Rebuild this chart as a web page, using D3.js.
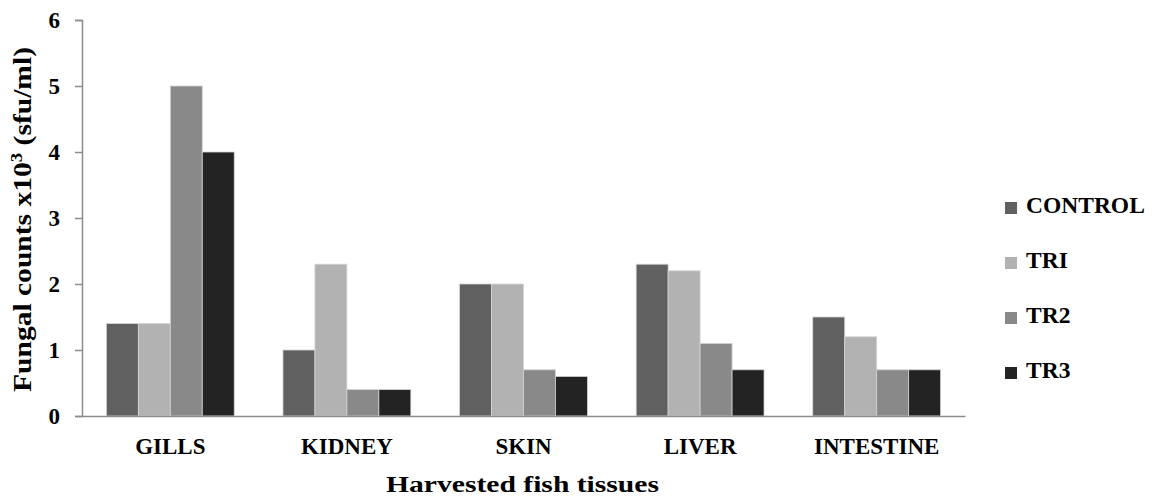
<!DOCTYPE html>
<html><head><meta charset="utf-8">
<script src="https://cdn.jsdelivr.net/npm/d3@7"></script>
<style>body{margin:0;background:#fff}svg{display:block}text{font-family:"Liberation Serif","Times New Roman",serif;font-weight:bold;fill:#000}</style>
</head><body>
<svg id="c" width="1155" height="496"></svg>
<script>
const categories = ["GILLS","KIDNEY","SKIN","LIVER","INTESTINE"];
const seriesNames = ["CONTROL","TRI","TR2","TR3"];
const control = [1.4,1.0,2.0,2.3,1.5];
const tr1 = [1.4,2.3,2.0,2.2,1.2];
const tr2 = [5.0,0.4,0.7,1.1,0.7];
const tr3 = [4.0,0.4,0.6,0.7,0.7];
const yTicks = [0,1,2,3,4,5,6];
const colors = ["#606060","#b2b2b2","#898989","#232323"];

const seriesValues = [control,tr1,tr2,tr3];
const FONT = "Liberation Serif";
const svg = d3.select("#c");
const x0 = d3.scaleBand().domain(categories).range([82,965]).paddingInner(0).paddingOuter(0);
const inner = 0.724;
const x1 = d3.scaleBand().domain(seriesNames).range([0,x0.bandwidth()*inner]);
const y = d3.scaleLinear().domain([0,6]).range([416,20]);

// bars
const groups = svg.append("g").selectAll("g").data(categories).join("g")
  .attr("transform",d=>`translate(${x0(d)+x0.bandwidth()*(1-inner)/2},0)`);
groups.selectAll("rect").data((d,i)=>seriesNames.map((s,j)=>({s,v:seriesValues[j][i],j})))
  .join("rect")
  .attr("x",d=>x1(d.s)).attr("width",x1.bandwidth())
  .attr("y",d=>y(d.v)).attr("height",d=>y(0)-y(d.v))
  .attr("fill",d=>colors[d.j]).attr("stroke","#d4d4d4").attr("stroke-width",0.8);

// y axis
const ya = svg.append("g").attr("transform","translate(82,0)")
  .call(d3.axisLeft(y).tickValues(yTicks).tickSize(7).tickPadding(15).tickFormat(d3.format("d")));
ya.attr("font-family",FONT);
ya.select(".domain").attr("stroke","#8c8c8c").attr("stroke-width",1.5);
ya.selectAll(".tick line").attr("stroke","#8c8c8c").attr("stroke-width",1.5);
ya.selectAll("text").style("font-size","23px").style("font-family",FONT).style("font-weight","bold");

// x axis
const xa = svg.append("g").attr("transform","translate(0,416)")
  .call(d3.axisBottom(x0).tickSize(0).tickPadding(22));
xa.attr("font-family",FONT);
xa.select(".domain").attr("stroke","#8c8c8c").attr("stroke-width",1.5);
xa.selectAll("text").attr("dy",null).attr("y",38).style("font-size","23px").style("font-family",FONT).style("font-weight","bold");

// titles
svg.append("text").attr("x",522.5).attr("y",492).attr("text-anchor","middle")
  .attr("textLength",273).attr("lengthAdjust","spacingAndGlyphs")
  .style("font-size","24px").text("Harvested fish tissues");
const yt = svg.append("text").attr("transform","translate(31,219.5) rotate(-90)").attr("text-anchor","middle")
  .attr("textLength",345).attr("lengthAdjust","spacingAndGlyphs").style("font-size","25px");
yt.append("tspan").text("Fungal counts x10");
yt.append("tspan").attr("dy",-9).style("font-size","16px").text("3");
yt.append("tspan").attr("dy",9).text(" (sfu/ml)");

// legend
const leg = svg.append("g").selectAll("g").data(seriesNames).join("g")
  .attr("transform",(d,i)=>`translate(1005,${213+i*55})`);
leg.append("rect").attr("x",0).attr("y",-11).attr("width",12).attr("height",12).attr("fill",(d,i)=>colors[i]);
leg.append("text").attr("x",21).attr("y",0).style("font-size","23.5px").text(d=>d);
</script>
</body></html>
